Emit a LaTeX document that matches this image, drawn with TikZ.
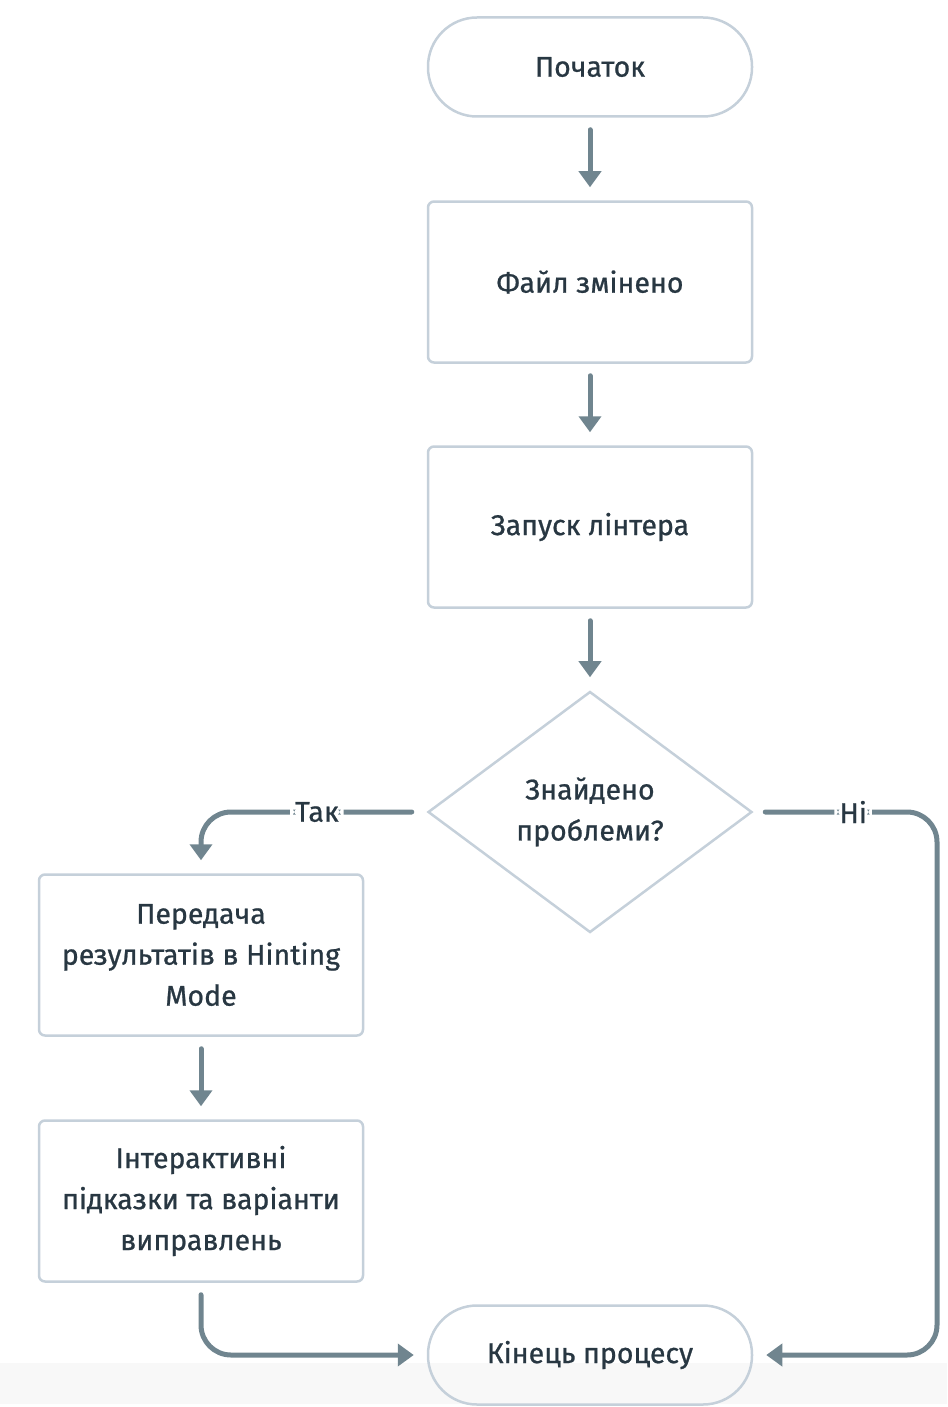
\documentclass[tikz,border=0pt]{standalone}
\usepackage{fontspec}
\setmainfont{Fira Sans}[UprightFeatures={FakeBold=0.8}]
\usetikzlibrary{shapes.geometric,arrows.meta}
\definecolor{edgegray}{RGB}{197,208,218}
\definecolor{flowgray}{RGB}{112,133,143}
\definecolor{inkgray}{RGB}{40,55,66}
\definecolor{bandgray}{RGB}{248,248,248}
\tikzset{
  box/.style={draw=edgegray, line width=2.5pt, rounded corners=6pt, minimum width=324pt,
    minimum height=161pt, text=inkgray, align=center, inner sep=0pt},
  term/.style={box, rounded corners=49pt, minimum height=99pt},
  choice/.style={draw=edgegray, line width=2.5pt, diamond, minimum width=324pt,
    minimum height=241pt, text=inkgray, align=center, inner sep=0pt},
  flow/.style={draw=flowgray, line width=5pt, line cap=round, -{Triangle[width=22pt,length=16pt]},
    shorten <=12pt, shorten >=13pt, rounded corners=30pt},
  lbl/.style={fill=white, text=inkgray, inner sep=5pt},
}
\begin{document}
\begin{tikzpicture}[x=1pt, y=-1pt, font=\fontsize{28.5}{41}\selectfont]
  \useasboundingbox (0,0) rectangle (947,1407);
  \fill[bandgray] (0,1363) rectangle (947,1404);

  \node(start)[term] at(590,67) {Початок};
  \node(changed)[box] at(590,282) {Файл змінено};
  \node(lint)[box] at(590,527) {Запуск лінтера};
  \node(found)[choice] at(590,812) {Знайдено\\проблеми?};
  \node(hint)[box] at(201,955) {Передача\\результатів в Hinting\\Mode};
  \node(tips)[box] at(201,1201) {Інтерактивні\\підказки та варіанти\\виправлень};
  \node(finish)[term] at(590,1355) {Кінець процесу};

  \foreach \a/\b in {start/changed,changed/lint,lint/found,hint/tips}{%
    \draw[flow](\a)--(\b);
  }
  % branches of the check
  \draw[flow, shorten <=0pt](found.west) ++(-15,0) -| node[lbl, pos=0.225]{Так} (hint.north);
  \draw[flow, shorten <=0pt](found.east) ++(12,0) -| node[lbl, pos=0.256]{Ні} (937,1000) |- (finish.east);
  \draw[flow](tips.south) |- (finish.west);
\end{tikzpicture}
\end{document}
